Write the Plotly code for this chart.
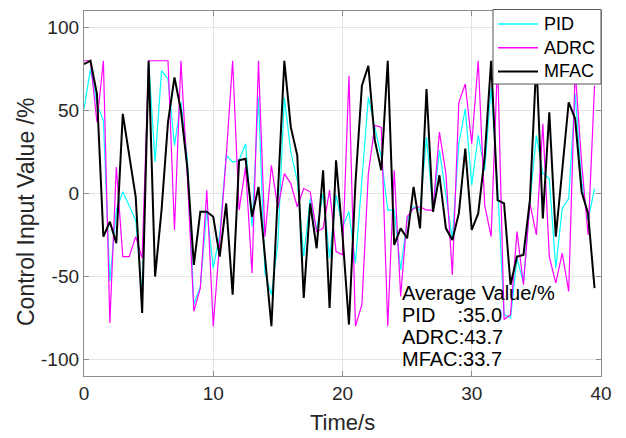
import plotly.graph_objects as go

# Time axis (s), sampled every 0.5 s
time_s = [0.0, 0.5, 1.0, 1.5, 2.0, 2.5, 3.0, 3.5, 4.0, 4.5,
          5.0, 5.5, 6.0, 6.5, 7.0, 7.5, 8.0, 8.5, 9.0, 9.5,
          10.0, 10.5, 11.0, 11.5, 12.0, 12.5, 13.0, 13.5, 14.0, 14.5,
          15.0, 15.5, 16.0, 16.5, 17.0, 17.5, 18.0, 18.5, 19.0, 19.5,
          20.0, 20.5, 21.0, 21.5, 22.0, 22.5, 23.0, 23.5, 24.0, 24.5,
          25.0, 25.5, 26.0, 26.5, 27.0, 27.5, 28.0, 28.5, 29.0, 29.5,
          30.0, 30.5, 31.0, 31.5, 32.0, 32.5, 33.0, 33.5, 34.0, 34.5,
          35.0, 35.5, 36.0, 36.5, 37.0, 37.5, 38.0, 38.5, 39.0, 39.5]

pid = [51, 75, 54, 44, -53, -10, 1, -8, -16, -60,
       80, 19, 74, 69, 29, 55, 20, -67, -56, -10,
       -45, -25, 23, 19, 20, 30, -20, 58, -48, -61,
       -30, 58, 25, 8, -38, -3, -22, 0, -39, -1,
       -20, -11, -42, 8, 58, 40, 22, -10, -10, -46,
       -16, -8, -10, 34, -10, 26, -2, -28, 30, 51,
       5, 35, 14, 64, 5, -73, -75, -39, -54, -5,
       35, 12, 9, -45, -9, -3, 60, 7, -16, 3]

adrc = [80, 80, 43, 80, -78, 16, -38, -38, -26, -39,
        80, 80, 80, 80, -22, 80, 10, -71, -57, 2,
        -80, -30, 22, 80, -10, 16, -48, 80, -26, 17,
        -9, 12, 6, -8, 3, 1, -23, -21, 2, -35,
        -37, 71, -80, -67, 12, 41, 40, -80, 14, -62,
        -14, -9, -8, -10, -10, 37, 12, -49, 55, 66,
        30, 80, -7, -26, 80, -76, -73, -23, -55, -6,
        -25, 42, -38, -54, -36, -59, 74, 19, -25, 65]

mfac = [78, 80, 60, -26, -17, -30, 48, 24, -2, -72,
        80, -50, -10, 43, 70, 50, 15, -43, -11, -11,
        -14, -38, -6, -61, 20, 21, -14, 4, -36, -80,
        0, 80, 40, 23, -63, -6, -33, 14, -69, 20,
        -25, -79, 6, 65, 77, 32, 14, 80, -31, -21,
        -27, 4, -21, 63, -11, 11, -21, -28, -12, 27,
        -22, -12, 22, 80, -4, -6, -55, -38, -37, -4,
        80, -15, 49, -26, 14, 55, 45, 1, -12, -57]

series_names = ["PID", "ADRC", "MFAC"]
series_colors = ["#00ffff", "#ff00ff", "#000000"]
series_widths = [1.2, 1.2, 2]
avg_values = ["35.0", "43.7", "33.7"]
x_ticks = [0, 10, 20, 30, 40]
x_tick_labels = ["0", "10", "20", "30", "40"]
y_ticks = [-100, -50, 0, 50, 100]
y_tick_labels = ["-100", "-50", "0", "50", "100"]

fig = go.Figure()
for name, ys, col, w in zip(series_names, [pid, adrc, mfac], series_colors, series_widths):
    fig.add_trace(go.Scatter(x=time_s, y=ys, mode="lines", name=name,
                             line=dict(color=col, width=w), showlegend=False))

axis_common = dict(
    showgrid=True, gridcolor="#e3e3e3", gridwidth=1,
    showline=True, linecolor="#8c8c8c", linewidth=1.3, mirror="ticks",
    ticks="inside", ticklen=5, tickcolor="#8c8c8c", tickwidth=1,
    zeroline=False, tickfont=dict(size=19, color="#262626"),
    automargin=False,
)

fig.update_xaxes(range=[0, 40], tickvals=x_ticks, ticktext=x_tick_labels, **axis_common)
fig.update_yaxes(range=[-110, 110], tickvals=y_ticks, ticktext=y_tick_labels, **axis_common)

W, H, L, B = 517.0, 365.0, 84.0, 376.0
def px(x):
    return (x - L) / W
def py(y):
    return (B - y) / H

# axis titles as text annotations (fixed positions)
fig.add_annotation(x=0.5, y=py(437), xref="paper", yref="paper",
                   text="Time/s", showarrow=False,
                   xanchor="center", yanchor="bottom",
                   font=dict(size=22, color="#262626"))
fig.add_annotation(x=px(26), y=py(212), xref="paper", yref="paper",
                   text="Control Input Value /%", textangle=-90, showarrow=False,
                   xanchor="center", yanchor="middle",
                   font=dict(size=23, color="#262626"))

# Average value text block
lines = ["Average Value/%",
         "PID\u00a0\u00a0\u00a0\u00a0:" + avg_values[0],
         "ADRC:" + avg_values[1],
         "MFAC:" + avg_values[2]]
line_y = [-60.2, -73.4, -86.6, -99.8]
for txt, yy in zip(lines, line_y):
    fig.add_annotation(x=24.45, y=yy, xref="x", yref="y", text=txt, showarrow=False,
                       xanchor="left", yanchor="middle",
                       font=dict(size=20, color="#000000"))

# Legend box (top-right, MATLAB style)
fig.add_shape(type="rect", xref="paper", yref="paper",
              x0=px(493), x1=px(601), y0=py(84), y1=py(9.5),
              fillcolor="white", line=dict(color="#555555", width=1), layer="above")
for i, (name, col) in enumerate(zip(series_names, series_colors)):
    yy = py(24 + 23.7 * i)
    fig.add_shape(type="line", xref="paper", yref="paper",
                  x0=px(498), x1=px(538), y0=yy, y1=yy,
                  line=dict(color=col, width=1.6 if i < 2 else 2), layer="above")
    fig.add_annotation(x=px(542), y=yy, xref="paper", yref="paper", text=name,
                       showarrow=False, xanchor="left", yanchor="middle",
                       font=dict(size=18, color="#000000"))

fig.update_layout(
    width=626, height=438,
    margin=dict(l=84, r=25, t=11, b=62),
    plot_bgcolor="white", paper_bgcolor="white",
    font=dict(family="Liberation Sans, Arial, sans-serif", color="#262626"),
    showlegend=False,
)

fig.write_html("out.html")
